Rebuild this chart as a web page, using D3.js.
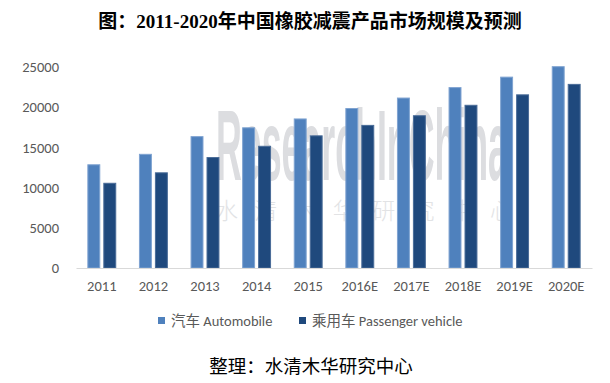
<!DOCTYPE html>
<html><head><meta charset="utf-8">
<script src="https://cdn.jsdelivr.net/npm/d3@7"></script>
<style>
html,body{margin:0;padding:0;background:#fff;}
#wrap{position:relative;width:610px;height:383px;overflow:hidden;}
#wm{position:absolute;left:216px;top:95.4px;font-family:'Liberation Sans Narrow','Liberation Sans',Arial,sans-serif;
  font-weight:bold;font-size:100px;line-height:100px;white-space:nowrap;color:#dcdde0;transform-origin:0 0;z-index:0;}
svg{position:absolute;left:0;top:0;display:block;z-index:1;}
</style></head>
<body>
<div id="wrap">
<div id="wm"><span id="wmText"></span></div>
<svg id="chart" width="610" height="383"></svg>
</div>
<script>
const categories = ["2011","2012","2013","2014","2015","2016E","2017E","2018E","2019E","2020E"];
const automobile = [12900,14200,16400,17500,18600,19900,21200,22500,23800,25100];
const passenger  = [10600,11900,13800,15200,16500,17800,19000,20300,21600,22900];
const seriesNames = ["汽车 Automobile","乘用车 Passenger vehicle"];
const yTicks = [0,5000,10000,15000,20000,25000];
const titleText = "图：2011-2020年中国橡胶减震产品市场规模及预测";
const sourceText = "整理：水清木华研究中心";
const watermarkEn = "ResearchInChina";
const watermarkCn = "水清木华研究中心";
const colors = ["#4F81BD","#1F497D"];
const strokes = ["#7FA3D1","#4A6C98"];

const svg = d3.select("#chart");
const mLeft = 76, mRight = 592, mTop = 67, mBottom = 268;
const latin = "Carlito, 'Liberation Sans', Arial, 'Noto Sans CJK SC', sans-serif";

const x = d3.scaleBand().domain(categories).range([mLeft,mRight]).paddingInner(0.44).paddingOuter(0.22);
const xs = d3.scaleBand().domain([0,1]).range([0,x.bandwidth()]).paddingInner(0.19);
const y = d3.scaleLinear().domain([0,25000]).range([mBottom,mTop]);

// watermark (HTML layer behind the chart)
const wmSpan = d3.select("#wmText").text(watermarkEn);
function fitWatermark(){
  const w = wmSpan.node().offsetWidth;
  if (w > 0) d3.select("#wm").style("transform",`scaleX(${292/w})`);
}
fitWatermark();
if (document.fonts && document.fonts.ready) document.fonts.ready.then(fitWatermark);

svg.append("text").attr("x",215).attr("y",219)
  .attr("textLength",298).attr("lengthAdjust","spacing")
  .style("font-family","'Noto Sans CJK SC',sans-serif").style("font-weight","300")
  .style("font-size","23px").attr("fill","#e2e3e5")
  .text(watermarkCn);

// title
svg.append("text").attr("x",310).attr("y",28).attr("text-anchor","middle")
  .style("font-family","'Liberation Serif','Noto Sans CJK SC',serif").style("font-weight","bold")
  .style("font-size","19px").attr("fill","#000").text(titleText);

// y axis labels
const yAxis = d3.axisLeft(y).tickValues(yTicks).tickSize(0).tickPadding(0).tickFormat(d3.format("d"));
const gy = svg.append("g").attr("transform",`translate(59,0)`).call(yAxis);
gy.select(".domain").remove();
gy.selectAll("text").attr("fill","#595959").style("font-family",latin).style("font-size","14.5px");

// bars
const data = [automobile, passenger];
data.forEach((vals,si)=>{
  svg.append("g").selectAll("rect").data(vals).join("rect")
    .attr("x",(d,i)=>x(categories[i])+xs(si)+0.5)
    .attr("y",d=>y(d)+0.5)
    .attr("width",xs.bandwidth()-1)
    .attr("height",d=>mBottom-y(d)-0.5)
    .attr("fill",colors[si]).attr("stroke",strokes[si]).attr("stroke-width",1);
});

// x axis
const xAxis = d3.axisBottom(x).tickSize(0).tickPadding(13);
const gx = svg.append("g").attr("transform",`translate(0,${mBottom})`).call(xAxis);
gx.select(".domain").attr("stroke","#d9d9d9").attr("stroke-width",1.2);
gx.selectAll("text").attr("fill","#595959").style("font-family",latin).style("font-size","14.5px");

// legend
const legendX = [158, 299];
seriesNames.forEach((name,i)=>{
  svg.append("rect").attr("x",legendX[i]).attr("y",317).attr("width",7).attr("height",7).attr("fill",colors[i]);
  svg.append("text").attr("x",legendX[i]+13).attr("y",326)
    .style("font-family",latin).style("font-size","14.5px").attr("fill","#595959").text(name);
});

// source
svg.append("text").attr("x",311).attr("y",373).attr("text-anchor","middle")
  .style("font-family","'Noto Sans CJK SC',sans-serif").style("font-size","18.5px")
  .attr("fill","#000").text(sourceText);
</script>
</body></html>
